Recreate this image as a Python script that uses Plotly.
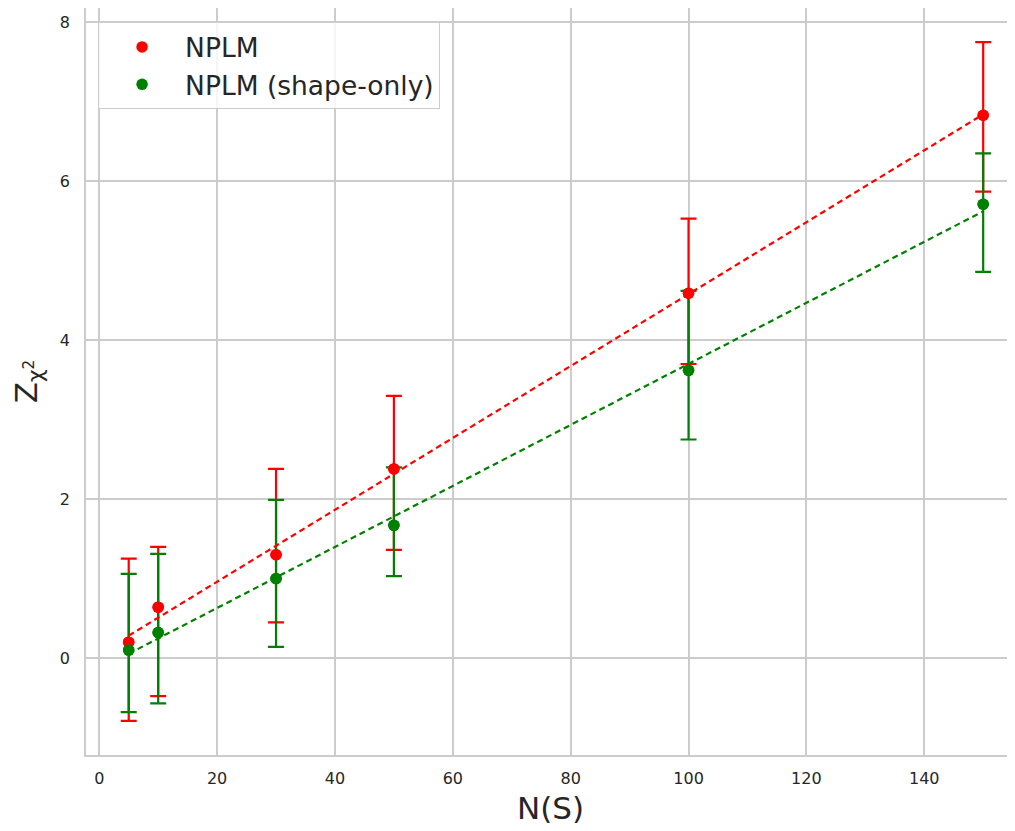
import numpy as np
import plotly.graph_objects as go

# Data
n_signal = [5, 10, 30, 50, 100, 150]

npl_z = [0.20, 0.64, 1.30, 2.38, 4.59, 6.83]
npl_hi = [1.25, 1.40, 2.38, 3.30, 5.53, 7.75]
npl_lo = [-0.79, -0.48, 0.45, 1.36, 3.70, 5.87]

shape_z = [0.10, 0.32, 1.00, 1.67, 3.62, 5.71]
shape_hi = [1.06, 1.31, 1.99, 2.40, 4.62, 6.35]
shape_lo = [-0.68, -0.57, 0.14, 1.03, 2.75, 4.86]

x_ticks = [0, 20, 40, 60, 80, 100, 120, 140]
y_ticks = [0, 2, 4, 6, 8]

RED = "#ff0000"
GREEN = "#008000"

x = np.array(n_signal, dtype=float)

def err(z, hi, lo):
    z = np.array(z); hi = np.array(hi); lo = np.array(lo)
    return hi - z, z - lo

fig = go.Figure()

series = [
    ("NPLM", npl_z, npl_hi, npl_lo, RED),
    ("NPLM (shape-only)", shape_z, shape_hi, shape_lo, GREEN),
]

# error bars (bottom layer)
for name, z, hi, lo, col in series:
    up, dn = err(z, hi, lo)
    fig.add_trace(go.Scatter(
        x=x, y=z, mode="markers", name=name, showlegend=True,
        marker=dict(color=col, size=11.5),
        error_y=dict(type="data", symmetric=False, array=up, arrayminus=dn,
                     color=col, thickness=2.2, width=8),
    ))

# linear fits
for name, z, hi, lo, col in series:
    k, b = np.polyfit(x, np.array(z), 1)
    xf = np.array([x.min(), x.max()])
    fig.add_trace(go.Scatter(
        x=xf, y=k * xf + b, mode="lines", showlegend=False,
        line=dict(color=col, width=2.2, dash="6px,4px"), hoverinfo="skip",
    ))

# markers on top
for name, z, hi, lo, col in series:
    fig.add_trace(go.Scatter(
        x=x, y=z, mode="markers", showlegend=False,
        marker=dict(color=col, size=11.5),
    ))

axis_common = dict(
    showgrid=True, gridcolor="#cccccc", gridwidth=1.5,
    zeroline=False, showline=True, linecolor="#cccccc", linewidth=1.5,
    ticks="", tickfont=dict(family="DejaVu Sans", size=16, color="#262626"),
)

fig.update_layout(
    width=1007, height=823,
    margin=dict(l=78, r=0, t=0, b=76, autoexpand=False),
    paper_bgcolor="white", plot_bgcolor="white",
    font=dict(family="DejaVu Sans", color="#262626"),
    xaxis=dict(range=[-2.25, 155.4], tickvals=x_ticks, mirror=True,
               ticklabelstandoff=8,
               title=dict(text="N(S)", font=dict(size=31), standoff=10),
               **axis_common),
    yaxis=dict(range=[-1.22, 8.18], tickvals=y_ticks, mirror=False,
               ticklabelstandoff=11,
               title=dict(text="Z<sub>χ<sup>2</sup></sub>", font=dict(size=31), standoff=18),
               **axis_common),
    legend=dict(x=0.013, y=0.981, xanchor="left", yanchor="top",
                bordercolor="#cccccc", borderwidth=1, bgcolor="rgba(255,255,255,0.8)",
                font=dict(size=26.5, color="#262626"), itemwidth=76,
                tracegroupgap=4),
    showlegend=True,
)

fig.write_html("out.html")
